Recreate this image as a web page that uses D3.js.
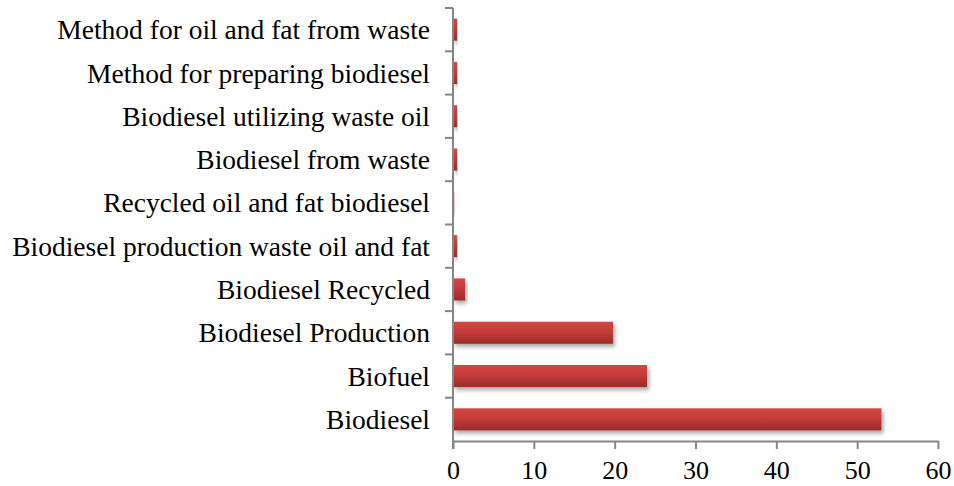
<!DOCTYPE html>
<html>
<head>
<meta charset="utf-8">
<script src="https://cdn.jsdelivr.net/npm/d3@7"></script>
<style>
  html, body { margin: 0; padding: 0; background: #fff; }
  svg { display: block; }
  text { font-family: "Liberation Serif", "Times New Roman", serif; fill: #000; }
</style>
</head>
<body>
<svg id="chart" width="954" height="486"></svg>
<script>
// Search terms, listed bottom to top
const categories = [
  "Biodiesel",
  "Biofuel",
  "Biodiesel Production",
  "Biodiesel Recycled",
  "Biodiesel production waste oil and fat",
  "Recycled oil and fat biodiesel",
  "Biodiesel from waste",
  "Biodiesel utilizing waste oil ",
  "Method for preparing biodiesel",
  "Method for oil and fat from waste"
];
const values = [53, 24, 19.8, 1.5, 0.5, 0.15, 0.5, 0.5, 0.5, 0.5];
const xTicks = [0, 10, 20, 30, 40, 50, 60];

const margin = { top: 8, right: 16, bottom: 45, left: 453 };
const width = 954, height = 486;
const labelSize = 27.5;
const tickSize = 26;
const svg = d3.select("#chart");

const x = d3.scaleLinear().domain([0, 60]).range([margin.left, width - margin.right]);
const y = d3.scaleBand()
  .domain(categories.slice().reverse())
  .range([margin.top, height - margin.bottom])
  .paddingInner(0.49).paddingOuter(0.245);

const defs = svg.append("defs");
const grad = defs.append("linearGradient").attr("id", "barGrad")
  .attr("x1", 0).attr("y1", 0).attr("x2", 0).attr("y2", 1);
grad.append("stop").attr("offset", "0%").attr("stop-color", "#d24745");
grad.append("stop").attr("offset", "45%").attr("stop-color", "#c43b39");
grad.append("stop").attr("offset", "100%").attr("stop-color", "#9c2b2a");

const shadow = defs.append("filter").attr("id", "shadow")
  .attr("x", "-10%").attr("y", "-30%").attr("width", "130%").attr("height", "190%");
shadow.append("feGaussianBlur").attr("in", "SourceAlpha").attr("stdDeviation", 2).attr("result", "b");
shadow.append("feOffset").attr("in", "b").attr("dx", 2).attr("dy", 3).attr("result", "o");
shadow.append("feComponentTransfer").attr("in", "o").attr("result", "s")
  .append("feFuncA").attr("type", "linear").attr("slope", 0.35);
const merge = shadow.append("feMerge");
merge.append("feMergeNode").attr("in", "s");
merge.append("feMergeNode").attr("in", "SourceGraphic");

// Bars
svg.append("g").selectAll("rect")
  .data(categories.map((c, i) => ({ c, v: values[i] })))
  .join("rect")
  .attr("x", x(0))
  .attr("y", d => y(d.c))
  .attr("width", d => x(d.v) - x(0))
  .attr("height", y.bandwidth())
  .attr("fill", "url(#barGrad)")
  .attr("filter", "url(#shadow)");

const axisColor = "#868686";

// X axis
const xAxis = svg.append("g")
  .attr("transform", `translate(0,${height - margin.bottom})`)
  .call(d3.axisBottom(x).tickValues(xTicks).tickSize(8).tickSizeOuter(0).tickPadding(12));
xAxis.attr("font-size", null).attr("font-family", null);
xAxis.select(".domain").attr("stroke", axisColor).attr("stroke-width", 2);
xAxis.selectAll(".tick line").attr("stroke", axisColor).attr("stroke-width", 2);
xAxis.selectAll(".tick text").attr("font-size", tickSize).attr("fill", "#000");

// Y axis: ticks at band boundaries
const yAxisG = svg.append("g");
yAxisG.append("line")
  .attr("x1", x(0)).attr("x2", x(0))
  .attr("y1", margin.top).attr("y2", height - margin.bottom + 8)
  .attr("stroke", axisColor).attr("stroke-width", 2);
const step = y.step();
const bounds = d3.range(categories.length).map(i => margin.top + i * step);
yAxisG.selectAll("line.tk").data(bounds).join("line").attr("class", "tk")
  .attr("x1", x(0) - 8).attr("x2", x(0))
  .attr("y1", d => d).attr("y2", d => d)
  .attr("stroke", axisColor).attr("stroke-width", 2);

// Category labels
yAxisG.selectAll("text").data(categories).join("text")
  .attr("x", x(0) - 23)
  .attr("y", d => y(d) + y.bandwidth() / 2)
  .attr("dy", "0.35em")
  .attr("text-anchor", "end")
  .attr("font-size", labelSize)
  .text(d => d);
</script>
</body>
</html>
